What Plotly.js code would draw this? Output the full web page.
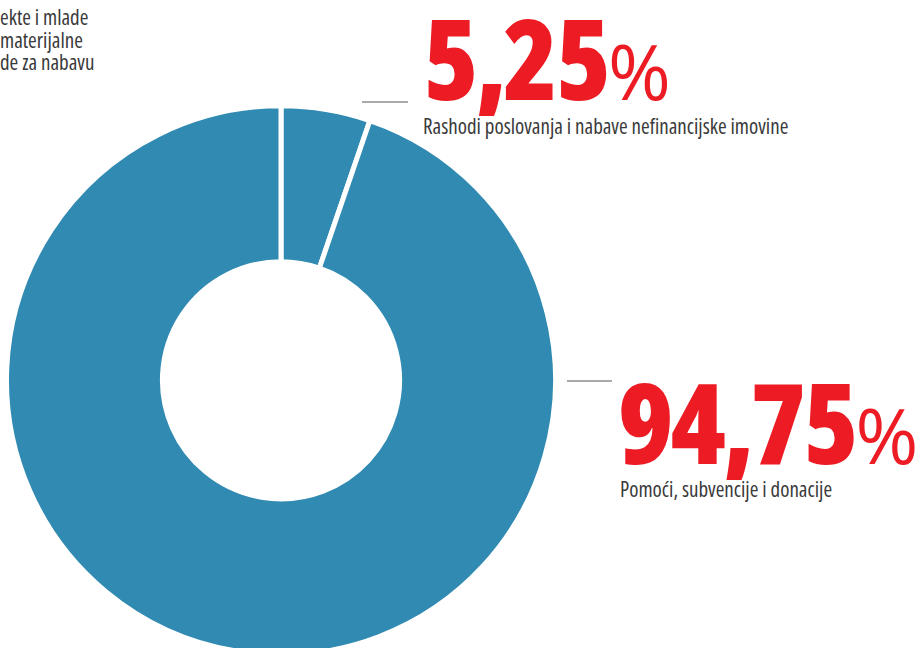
<!DOCTYPE html>
<html>
<head>
<meta charset="utf-8">
<script src="https://cdn.plot.ly/plotly-3.0.1.min.js"></script>
<style>
html,body{margin:0;padding:0;overflow:hidden;background:#fff;}
#chart{width:917px;height:660px;}
</style>
</head>
<body>
<div id="chart"></div>
<script>
// Data
const categories = ["Rashodi poslovanja i nabave nefinancijske imovine", "Pomoći, subvencije i donacije"];
const values = [5.25, 94.75];
const valueLabels = ["5,25", "94,75"];
const cutLabelLines = ["ekte i mlade", "materijalne", "de za nabavu"];

const W = 917, H = 660;
const px = x => x / W;
const py = y => 1 - y / H;

const BLUE = "#318ab2";
const RED = "#ed1c24";
const GRAY = "#3a3a3a";
const FONT = "'Open Sans', sans-serif";
const COND = "font-stretch:75%;";

const trace = {
  type: "pie",
  labels: categories,
  values: values,
  sort: false,
  direction: "clockwise",
  rotation: 0,
  hole: 0.432,
  textinfo: "none",
  hoverinfo: "none",
  marker: { colors: [BLUE, BLUE], line: { color: "#ffffff", width: 5 } },
  domain: { x: [px(6.5), px(555.5)], y: [py(655), py(105.5)] },
  showlegend: false
};

function bigNum(label, x, y) {
  return {
    xref: "paper", yref: "paper", x: px(x), y: py(y),
    xanchor: "left", yanchor: "bottom", showarrow: false,
    text: "<span style='" + COND + "font-weight:800;letter-spacing:-3px'>" + label +
          "</span><span style='font-size:76px;font-weight:500;font-stretch:100%;letter-spacing:0px'>%</span>",
    font: { family: FONT, size: 112, color: RED },
    align: "left"
  };
}
function subLabel(text, x, y, size) {
  return {
    xref: "paper", yref: "paper", x: px(x), y: py(y),
    xanchor: "left", yanchor: "bottom", showarrow: false,
    text: "<span style='" + COND + "'>" + text + "</span>",
    font: { family: FONT, size: size, color: GRAY },
    align: "left"
  };
}

const annotations = [
  bigNum(valueLabels[0], 421, 134.5),
  subLabel(categories[0], 421, 142, 21),
  bigNum(valueLabels[1], 616, 499),
  subLabel(categories[1], 618, 505, 21),
  subLabel(cutLabelLines[0], -2, 33, 21),
  subLabel(cutLabelLines[1], -2, 55.5, 21),
  subLabel(cutLabelLines[2], -2, 78, 21)
];

const shapes = [
  { type: "line", xref: "paper", yref: "paper", x0: px(362), x1: px(408), y0: py(102), y1: py(102), line: { color: "#555555", width: 1 } },
  { type: "line", xref: "paper", yref: "paper", x0: px(567), x1: px(612), y0: py(381), y1: py(381), line: { color: "#555555", width: 1 } }
];

const layout = {
  width: W, height: H,
  margin: { l: 0, r: 0, t: 0, b: 0, pad: 0 },
  paper_bgcolor: "#ffffff",
  plot_bgcolor: "#ffffff",
  showlegend: false,
  annotations: annotations,
  shapes: shapes
};

Plotly.newPlot("chart", [trace], layout, { staticPlot: true, displayModeBar: false });
</script>
</body>
</html>
